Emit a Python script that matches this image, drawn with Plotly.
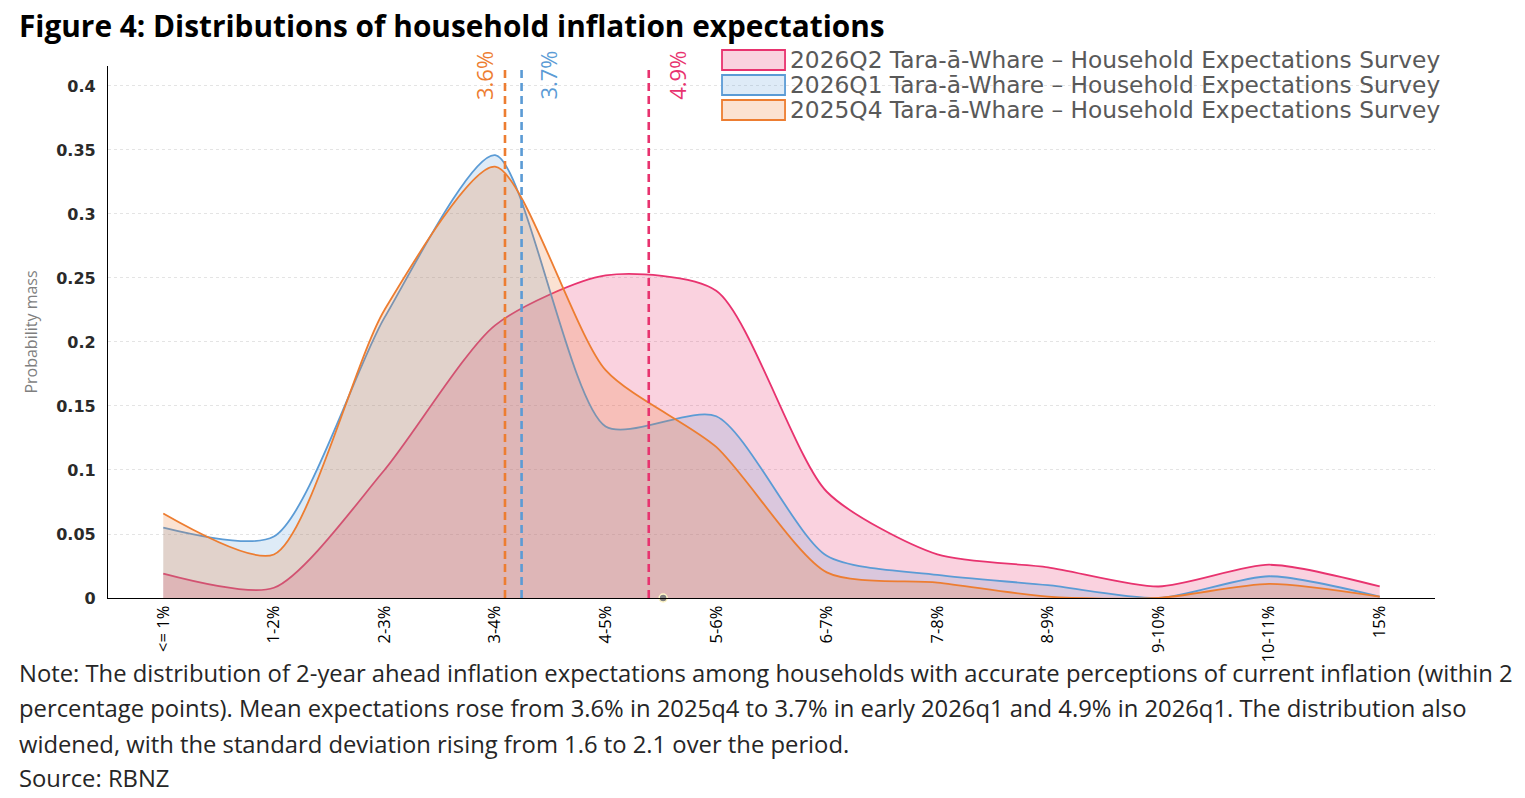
import plotly.graph_objects as go

categories = ["<= 1%", "1-2%", "2-3%", "3-4%", "4-5%", "5-6%", "6-7%", "7-8%", "8-9%", "9-10%", "10-11%", "15%"]

q2_2026 = [0.019, 0.008, 0.100, 0.213, 0.252, 0.240, 0.083, 0.034, 0.024, 0.009, 0.026, 0.009]
q1_2026 = [0.055, 0.048, 0.219, 0.346, 0.134, 0.142, 0.033, 0.018, 0.010, 0.000, 0.017, 0.001]
q4_2025 = [0.066, 0.034, 0.225, 0.337, 0.178, 0.118, 0.020, 0.012, 0.001, 0.000, 0.011, 0.001]

series_names = [
    "2026Q2 Tara-ā-Whare – Household Expectations Survey",
    "2026Q1 Tara-ā-Whare – Household Expectations Survey",
    "2025Q4 Tara-ā-Whare – Household Expectations Survey",
]
means = [4.89, 3.74, 3.59]
mean_labels = ["4.9%", "3.7%", "3.6%"]

line_colors = ["#e8336f", "#5b9bd5", "#ed7d31"]
fill_colors = ["rgba(232,51,111,0.22)", "rgba(91,155,213,0.20)", "rgba(237,125,49,0.22)"]

# category positions on a numeric axis where bin "k-(k+1)%" sits at k+0.5
xpos = [i + 0.5 for i in range(len(categories))]

fig = go.Figure()
for vals, name, lc, fc in zip([q2_2026, q1_2026, q4_2025], series_names, line_colors, fill_colors):
    fig.add_trace(go.Scatter(
        x=xpos, y=vals, name=name, mode="lines",
        line=dict(color=lc, width=1.8, shape="spline", smoothing=0.7),
        fill="tozeroy", fillcolor=fc, showlegend=False, hoverinfo="skip",
    ))

# small grey marker on the axis
fig.add_trace(go.Scatter(x=[5.02], y=[0], mode="markers",
                         marker=dict(size=8, color="#808080", line=dict(color="#fff6c8", width=1.5)),
                         showlegend=False, hoverinfo="skip", cliponaxis=False))

shapes = []
annotations = []

# mean lines with labels
label_shift = {"4.9%": 28, "3.7%": 26, "3.6%": -21}
for m, lab, lc in zip(means, mean_labels, line_colors):
    shapes.append(dict(type="line", xref="x", yref="paper", x0=m, x1=m, y0=0, y1=0.9925,
                       line=dict(color=lc, width=2.6, dash="8px,5px")))
    annotations.append(dict(x=m, xref="x", y=0.983, yref="paper", text=lab, showarrow=False,
                            textangle=-90, xshift=label_shift[lab], xanchor="center", yanchor="middle",
                            font=dict(family="Open Sans", size=22, color=lc)))

# manual legend
box_rows = [(1.0301, 0.9925), (0.9831, 0.9455), (0.9361, 0.8985)]
text_y = [1.0113, 0.9643, 0.9173]
for (y0, y1), ty, name, lc, fc in zip(box_rows, text_y, series_names, line_colors, fill_colors):
    shapes.append(dict(type="rect", xref="paper", yref="paper", x0=0.4627, x1=0.5102, y0=y1, y1=y0,
                       line=dict(color=lc, width=1.8), fillcolor=fc))
    annotations.append(dict(x=0.5125, xref="paper", y=ty, yref="paper", text=name, showarrow=False,
                            xanchor="left", yanchor="middle",
                            font=dict(family="DejaVu Sans", size=23.3, color="#595959")))

# title
annotations.append(dict(x=-0.0686, xref="paper", y=1.077, yref="paper",
                        text="<b>Figure 4: Distributions of household inflation expectations</b>",
                        showarrow=False, xanchor="left", yanchor="middle",
                        font=dict(family="Open Sans", size=29.8, color="#000000")))

# notes
note_lines = [
    "Note: The distribution of 2-year ahead inflation expectations among households with accurate perceptions of current inflation (within 2",
    "percentage points). Mean expectations rose from 3.6% in 2025q4 to 3.7% in early 2026q1 and 4.9% in 2026q1. The distribution also",
    "widened, with the standard deviation rising from 1.6 to 2.1 over the period.",
    "Source: RBNZ",
]
note_y = [-0.141, -0.2068, -0.2744, -0.3383]
for t, ny in zip(note_lines, note_y):
    annotations.append(dict(x=-0.0686, xref="paper", y=ny, yref="paper", text=t, showarrow=False,
                            xanchor="left", yanchor="middle",
                            font=dict(family="Open Sans", size=23.8, color="#262626")))

fig.update_layout(
    width=1525, height=798,
    margin=dict(l=108, r=90, t=66, b=200),
    paper_bgcolor="white", plot_bgcolor="white",
    shapes=shapes, annotations=annotations,
    showlegend=False,
    xaxis=dict(range=[0, 12], tickvals=xpos, ticktext=categories, tickangle=-90,
               showgrid=False, zeroline=False, showline=True, linecolor="#000000", linewidth=1.2,
               ticks="", tickfont=dict(family="Open Sans", size=16.5, color="#000000")),
    yaxis=dict(range=[0, 0.4156], tick0=0, dtick=0.05, showgrid=True, gridcolor="#e4e4e4",
               griddash="dot", gridwidth=1, zeroline=False, showline=True, linecolor="#000000",
               linewidth=1.2, ticks="", ticklabelstandoff=8,
               tickfont=dict(family="DejaVu Sans", size=16, color="#2a2a2a", weight="bold"),
               title=dict(text="Probability mass", standoff=14,
                          font=dict(family="Open Sans", size=16, color="#7f7f7f"))),
)

fig.write_html("out.html")
